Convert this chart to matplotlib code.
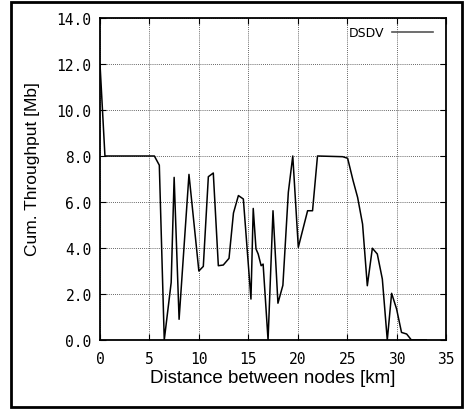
import numpy as np
import matplotlib.pyplot as plt
from matplotlib.lines import Line2D
from matplotlib.patches import Rectangle

# distance [km] and cumulative throughput [Mb]
dist = [0.0, 0.5, 5.5, 6.0, 6.5, 7.2, 7.5, 8.0, 9.0, 10.0, 10.45, 10.96, 11.46,
        11.97, 12.47, 13.05, 13.5, 14.0, 14.5, 15.27, 15.5, 15.78, 16.0, 16.3,
        16.5, 17.0, 17.5, 18.0, 18.5, 19.05, 19.5, 20.06, 21.0, 21.5, 22.0,
        24.55, 25.05, 25.6, 26.06, 26.56, 27.04, 27.55, 28.05, 28.56, 29.06,
        29.5, 30.0, 30.5, 31.02, 31.5, 33.0]
thru = [12.0, 8.0, 8.0, 7.6, 0.0, 2.5, 7.07, 0.9, 7.2, 3.0, 3.2, 7.1, 7.26,
        3.23, 3.26, 3.55, 5.52, 6.28, 6.13, 1.78, 5.72, 3.96, 3.74, 3.23,
        3.3, 0.0, 5.62, 1.6, 2.38, 6.42, 8.0, 4.03, 5.62, 5.62, 8.0,
        7.97, 7.9, 6.93, 6.2, 5.04, 2.36, 3.99, 3.74, 2.65, 0.0,
        2.03, 1.35, 0.33, 0.26, 0.0, 0.0]

xticks = [0, 5, 10, 15, 20, 25, 30, 35]
yticks = [0, 2, 4, 6, 8, 10, 12, 14]

fig = plt.figure(figsize=(4.66, 4.10), dpi=100)
ax = fig.add_axes([100/466, 1 - 341/410, 346/466, 322/410])

ax.plot(dist, thru, color='black', lw=1.1)

ax.set_xlim(0, 35)
ax.set_ylim(0, 14)
ax.set_xticks(xticks)
ax.set_yticks(yticks)
ax.set_xticklabels([str(t) for t in xticks], family='DejaVu Sans Mono', fontsize=10.5)
ax.set_yticklabels(['%.1f' % t for t in yticks], family='DejaVu Sans Mono', fontsize=10.5)
ax.tick_params(direction='in', length=4, width=0.8, top=True, right=True)
ax.tick_params(axis='x', pad=8)
ax.tick_params(axis='y', pad=6)
ax.grid(True, color='#333333', linestyle=(0, (1, 1.5)), linewidth=0.6)
for s in ax.spines.values():
	s.set_linewidth(1.3)

ax.set_xlabel("Distance between nodes [km]", family='Liberation Sans', fontsize=13.5, labelpad=2)
ax.set_ylabel("Cum. Throughput [Mb]", family='Liberation Sans', fontsize=12.5, labelpad=5)
ax.yaxis.set_label_coords(-0.172, 0.534)

handle = Line2D([], [], color='#555555', lw=1.2)
ax.legend([handle], ['DSDV'], loc='upper right', bbox_to_anchor=(0.977, 0.99),
          frameon=False, markerfirst=False, handlelength=3.3, fontsize=9,
          borderaxespad=0, handletextpad=0.6)

fig.patches.append(Rectangle((11/466, 2/410), 451/466, 405/410, transform=fig.transFigure,
                             fill=False, edgecolor='black', lw=2))

plt.savefig("out.png")
